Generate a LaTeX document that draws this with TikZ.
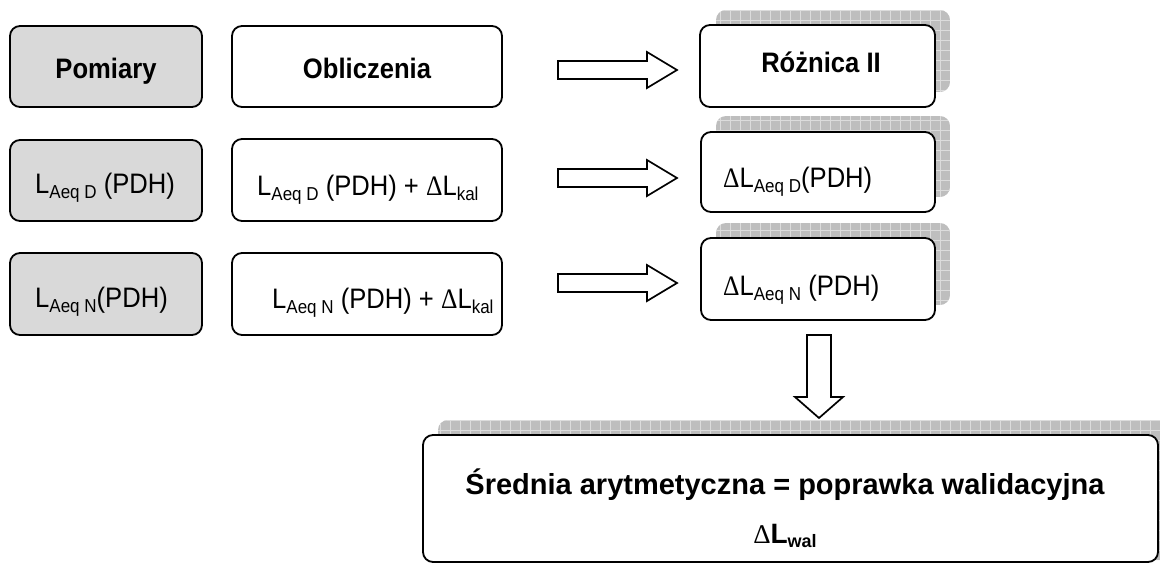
\documentclass[tikz,border=0pt]{standalone}
\usepackage{graphicx}
\usepackage{fontspec}
\setmainfont{Liberation Sans}
\newfontfamily\symf{Liberation Serif}
\definecolor{boxgray}{HTML}{D9D9D9}
\definecolor{shadowbase}{HTML}{BEBEBE}
\definecolor{shadowline}{HTML}{DCDCDC}
\newcommand{\sbs}[1]{\raisebox{-5pt}{\fontsize{17}{17}\selectfont #1}}
\newcommand{\dlt}{{\symf Δ}}
\newcommand{\vst}[1]{\scalebox{1}[1.1]{#1}}
\newcommand{\shadowrect}[4]{%
  \begin{scope}
    \clip[rounded corners=10pt] (#1,#2) rectangle (#3,#4);
    \fill[shadowbase] (#1,#2) rectangle (#3,#4);
    \draw[shadowline, line width=0.8pt, step=10pt] (#1,#2) grid (#3,#4);
  \end{scope}}
\newcommand{\rarrow}[1]{%
  \draw[blockarrow] (558,#1-9) -- (647,#1-9) -- (647,#1-18) -- (677,#1) -- (647,#1+18) -- (647,#1+9) -- (558,#1+9) -- cycle;}
\begin{document}
\begin{tikzpicture}[x=1pt,y=-1pt,
  box/.style={draw=black, line width=1.8pt, rounded corners=10pt, inner sep=0pt, fill=white},
  graybox/.style={box, fill=boxgray},
  txt/.style={inner sep=0pt, font=\fontsize{25.6}{30}\selectfont},
  btxt/.style={inner sep=0pt, font=\fontsize{25.6}{30}\selectfont\bfseries},
  blockarrow/.style={draw=black, line width=1.7pt, fill=white, line join=miter}
]
\useasboundingbox (0,0) rectangle (1160,563);

% shadows
\shadowrect{716}{10}{950}{92}
\shadowrect{716}{116}{950}{197}
\shadowrect{716}{223}{950}{305}
\shadowrect{438}{420}{1175}{560}

% row 1
\node[graybox, minimum width=192pt, minimum height=81pt] (pom) at (106,66.5) {};
\node[box, minimum width=270pt, minimum height=81pt] (obl) at (367,66.5) {};
\node[box, minimum width=235pt, minimum height=82pt] (roz) at (817.5,66) {};
\node[btxt, anchor=base] (tpom) at (106,78) {\vst{Pomiary}};
\node[btxt, anchor=base] (tobl) at (367,78) {\vst{Obliczenia}};
\node[btxt, anchor=base] (troz) at (821,72) {\vst{Różnica II}};

% row 2
\node[graybox, minimum width=192pt, minimum height=81pt] (lD) at (106,180.5) {};
\node[box, minimum width=270pt, minimum height=82pt] (mD) at (367,180) {};
\node[box, minimum width=234pt, minimum height=80pt] (rD) at (818,172) {};
\node[txt, anchor=base west] (tlD) at (35,193) {\vst{L\sbs{Aeq D} (PDH)}};
\node[txt, anchor=base west] (tmD) at (257,195) {\vst{L\sbs{Aeq D} (PDH) + \dlt L\sbs{kal}}};
\node[txt, anchor=base west] (trD) at (723,187) {\vst{\dlt L\sbs{Aeq D}(PDH)}};

% row 3
\node[graybox, minimum width=192pt, minimum height=82pt] (lN) at (106,294) {};
\node[box, minimum width=270pt, minimum height=82pt] (mN) at (367,294) {};
\node[box, minimum width=234pt, minimum height=82pt] (rN) at (818,279) {};
\node[txt, anchor=base west] (tlN) at (35,307) {\vst{L\sbs{Aeq N}(PDH)}};
\node[txt, anchor=base west] (tmN) at (272,308) {\vst{L\sbs{Aeq N} (PDH) + \dlt L\sbs{kal}}};
\node[txt, anchor=base west] (trN) at (723,295) {\vst{\dlt L\sbs{Aeq N} (PDH)}};

% arrows
\rarrow{70}
\rarrow{178}
\rarrow{283}
\draw[blockarrow] (807,335) -- (831,335) -- (831,397) -- (843,397) -- (819,418) -- (795,397) -- (807,397) -- cycle;

% bottom box
\node[box, minimum width=735pt, minimum height=127pt] (bot) at (790.5,498.5) {};
\node[inner sep=0pt, anchor=base, font=\fontsize{29}{34}\selectfont\bfseries] (tbot1) at (785,494) {Średnia arytmetyczna = poprawka walidacyjna};
\node[inner sep=0pt, anchor=base] (tbot2) at (785,543) {{\fontsize{27}{30}\selectfont\symf Δ}{\fontsize{28}{30}\selectfont\bfseries L}\raisebox{-4pt}{\fontsize{18}{18}\selectfont\bfseries wal}};
\end{tikzpicture}
\end{document}
